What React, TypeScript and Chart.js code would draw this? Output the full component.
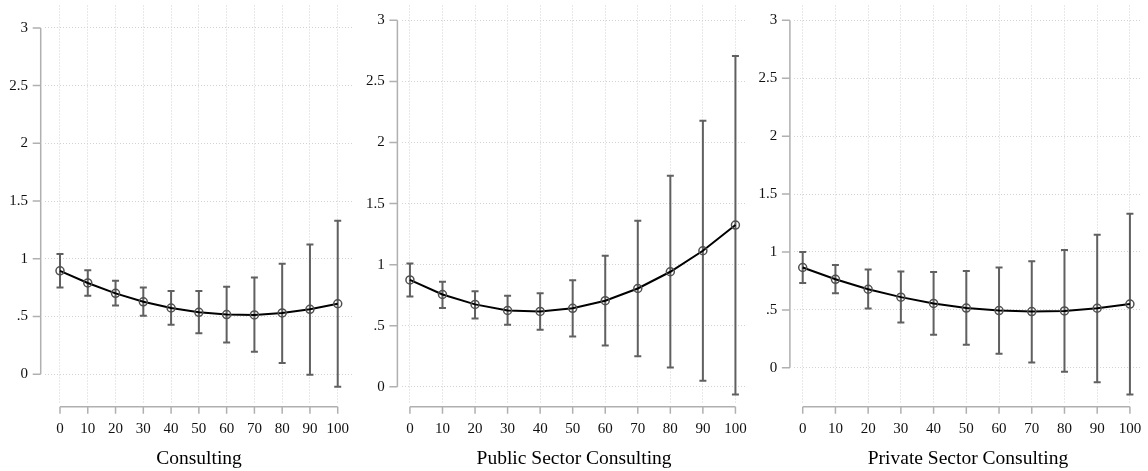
import React, { useEffect, useRef } from "react";
import { Chart, registerables } from "chart.js";

Chart.register(...registerables);

// ---------- data ----------
const xValues = [0, 10, 20, 30, 40, 50, 60, 70, 80, 90, 100];
const xTickLabels = ["0", "10", "20", "30", "40", "50", "60", "70", "80", "90", "100"];
const yTickValues = [0, 0.5, 1, 1.5, 2, 2.5, 3];
const yTickLabels = ["0", ".5", "1", "1.5", "2", "2.5", "3"];

const panelTitles = ["Consulting", "Public Sector Consulting", "Private Sector Consulting"];

const consultingEst = [0.895, 0.79, 0.7, 0.627, 0.573, 0.536, 0.516, 0.513, 0.53, 0.562, 0.61];
const consultingLow = [0.75, 0.68, 0.595, 0.505, 0.427, 0.354, 0.274, 0.194, 0.097, -0.005, -0.11];
const consultingHigh = [1.04, 0.9, 0.81, 0.75, 0.72, 0.72, 0.758, 0.838, 0.957, 1.123, 1.33];

const publicEst = [0.875, 0.756, 0.675, 0.625, 0.617, 0.643, 0.705, 0.805, 0.942, 1.114, 1.324];
const publicLow = [0.74, 0.646, 0.56, 0.509, 0.468, 0.412, 0.339, 0.25, 0.159, 0.051, -0.062];
const publicHigh = [1.01, 0.861, 0.783, 0.746, 0.767, 0.872, 1.074, 1.36, 1.727, 2.177, 2.707];

const privateEst = [0.866, 0.764, 0.678, 0.61, 0.556, 0.516, 0.494, 0.485, 0.491, 0.514, 0.55];
const privateLow = [0.733, 0.644, 0.511, 0.392, 0.286, 0.198, 0.122, 0.045, -0.034, -0.125, -0.23];
const privateHigh = [1.0, 0.888, 0.849, 0.832, 0.826, 0.835, 0.866, 0.92, 1.016, 1.149, 1.331];

// ---------- layout / style ----------
const FONT = '"Liberation Serif", "Times New Roman", serif';
const H = 471;
const PLOT_BOTTOM = 403;

type Layout = {
  left: number; width: number; yAxisW: number; padRight: number;
  xMin: number; xMax: number; yMin: number; yMax: number;
};

const layouts: Layout[] = [
  { left: 0, width: 360, yAxisW: 45, padRight: 7, xMin: -5.4, xMax: 105.5, yMin: -0.25, yMax: 3.194 },
  { left: 360, width: 392, yAxisW: 41.7, padRight: 3, xMin: -2.53, xMax: 103.4, yMin: -0.132, yMax: 3.121 },
  { left: 752, width: 396, yAxisW: 42.2, padRight: 6.3, xMin: -2.6, xMax: 103.6, yMin: -0.304, yMax: 3.128 },
];

const seriesList = [
  { est: consultingEst, low: consultingLow, high: consultingHigh },
  { est: publicEst, low: publicLow, high: publicHigh },
  { est: privateEst, low: privateLow, high: privateHigh },
];

function Panel({ idx }: { idx: number }) {
  const ref = useRef<HTMLCanvasElement | null>(null);
  const lay = layouts[idx];
  const s = seriesList[idx];

  useEffect(() => {
    if (!ref.current) return;
    const points = xValues.map((x, i) => ({ x, y: s.est[i] }));

    const decor = {
      id: "decor" + idx,
      beforeDatasetsDraw(chart: any) {
        const ctx = chart.ctx;
        const xs = chart.scales.x;
        const ys = chart.scales.y;
        ctx.save();
        ctx.strokeStyle = "#606060";
        ctx.lineWidth = 2;
        for (let i = 0; i < xValues.length; i++) {
          const px = xs.getPixelForValue(xValues[i]);
          const pl = ys.getPixelForValue(s.low[i]);
          const ph = ys.getPixelForValue(s.high[i]);
          ctx.beginPath();
          ctx.moveTo(px, pl);
          ctx.lineTo(px, ph);
          ctx.moveTo(px - 3.5, pl);
          ctx.lineTo(px + 3.5, pl);
          ctx.moveTo(px - 3.5, ph);
          ctx.lineTo(px + 3.5, ph);
          ctx.stroke();
        }
        ctx.restore();
      },
      afterDraw(chart: any) {
        const ctx = chart.ctx;
        const xs = chart.scales.x;
        const ys = chart.scales.y;
        const area = chart.chartArea;
        ctx.save();
        ctx.strokeStyle = "#b0b0b0";
        ctx.lineWidth = 1.5;
        // y axis line + ticks
        const ax = area.left - 4.3;
        const y0 = ys.getPixelForValue(yTickValues[0]);
        const y1 = ys.getPixelForValue(yTickValues[yTickValues.length - 1]);
        ctx.beginPath();
        ctx.moveTo(ax, y0);
        ctx.lineTo(ax, y1);
        for (const v of yTickValues) {
          const py = ys.getPixelForValue(v);
          ctx.moveTo(ax, py);
          ctx.lineTo(ax - 8, py);
        }
        // x axis line + ticks
        const ay = area.bottom + 3.7;
        const x0 = xs.getPixelForValue(xValues[0]);
        const x1 = xs.getPixelForValue(xValues[xValues.length - 1]);
        ctx.moveTo(x0, ay);
        ctx.lineTo(x1, ay);
        for (const v of xValues) {
          const px = xs.getPixelForValue(v);
          ctx.moveTo(px, ay);
          ctx.lineTo(px, ay + 7);
        }
        ctx.stroke();
        ctx.restore();
      },
    };

    const chart = new Chart(ref.current, {
      type: "scatter",
      data: {
        datasets: [
          {
            data: points,
            showLine: true,
            borderColor: "#000",
            borderWidth: 2,
            pointRadius: 4,
            pointBorderColor: "#505050",
            pointBorderWidth: 1.5,
            pointBackgroundColor: "rgba(0,0,0,0)",
            pointStyle: "circle",
            tension: 0,
          },
        ],
      },
      options: {
        animation: false,
        responsive: false,
        events: [],
        layout: { padding: { left: 0, right: lay.padRight, top: 0, bottom: 0 } },
        plugins: { legend: { display: false }, tooltip: { enabled: false } },
        scales: {
          x: {
            type: "linear",
            position: "bottom",
            min: lay.xMin,
            max: lay.xMax,
            afterBuildTicks: (sc: any) => {
              sc.ticks = xValues.map((v) => ({ value: v }));
            },
            afterFit: (sc: any) => {
              sc.height = H - PLOT_BOTTOM;
              sc.paddingLeft = 0;
              sc.paddingRight = 0;
              sc.paddingTop = 0;
              sc.paddingBottom = 0;
            },
            grid: {
              display: true,
              drawTicks: false,
              color: "#d2d2d2",
              lineWidth: 1,
            },
            border: { display: false, dash: [1, 2] },
            ticks: {
              autoSkip: false,
              maxRotation: 0,
              padding: 17,
              color: "#111",
              font: { family: FONT, size: 15 },
              callback: (_v: any, i: number) => xTickLabels[i],
            },
            title: {
              display: true,
              text: panelTitles[idx],
              color: "#000",
              font: { family: FONT, size: 19.5 },
              padding: { top: 0, bottom: 0 },
            },
          },
          y: {
            type: "linear",
            position: "left",
            min: lay.yMin,
            max: lay.yMax,
            afterBuildTicks: (sc: any) => {
              sc.ticks = yTickValues.map((v) => ({ value: v }));
            },
            afterFit: (sc: any) => {
              sc.width = lay.yAxisW;
              sc.paddingLeft = 0;
              sc.paddingRight = 0;
              sc.paddingTop = 0;
              sc.paddingBottom = 0;
            },
            grid: {
              display: true,
              drawTicks: false,
              color: "#d2d2d2",
              lineWidth: 1,
            },
            border: { display: false, dash: [1, 2] },
            ticks: {
              autoSkip: false,
              padding: 17,
              color: "#111",
              font: { family: FONT, size: 15 },
              callback: (_v: any, i: number) => yTickLabels[i],
            },
          },
        },
      },
      plugins: [decor],
    } as any);

    return () => chart.destroy();
  }, [idx]);

  return (
    <canvas
      ref={ref}
      width={lay.width}
      height={H}
      style={{ position: "absolute", left: lay.left, top: 0, width: lay.width, height: H }}
    />
  );
}

export default function App() {
  return (
    <div
      style={{
        position: "fixed",
        left: 0,
        top: 0,
        width: 1148,
        height: H,
        background: "#fff",
        overflow: "hidden",
      }}
    >
      <Panel idx={0} />
      <Panel idx={1} />
      <Panel idx={2} />
    </div>
  );
}
